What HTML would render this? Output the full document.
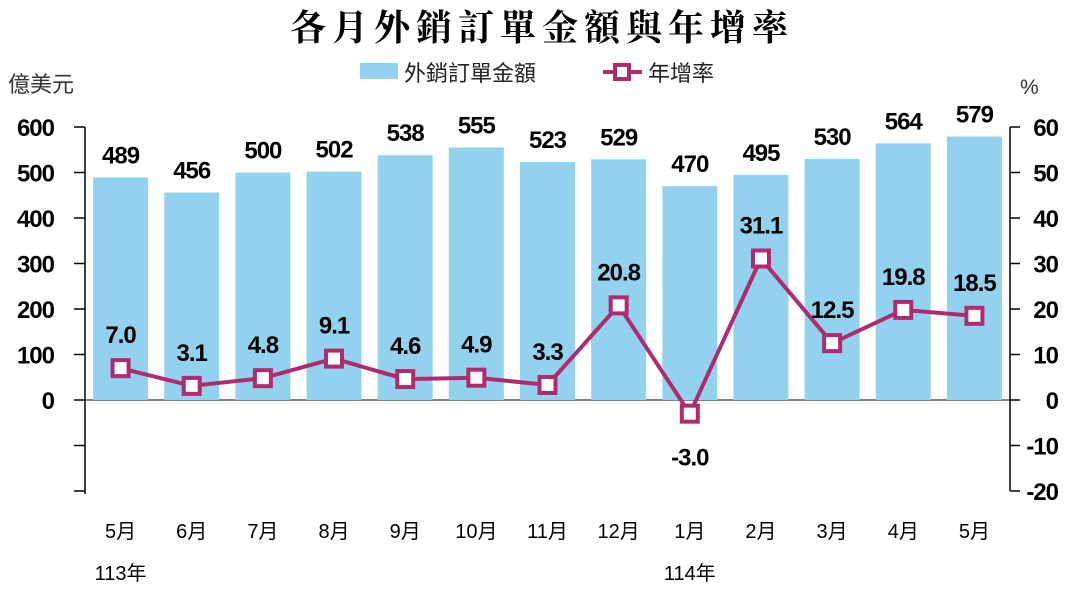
<!DOCTYPE html>
<html><head><meta charset="utf-8"><style>
body{margin:0;background:#fff;}
svg text{font-family:"Liberation Sans Narrow","Liberation Sans",sans-serif;}
.num{letter-spacing:-1px;}
.cjk{font-family:"Liberation Sans","Noto Sans CJK TC",sans-serif;}
</style></head><body>
<svg id="chart" width="1080" height="591" xmlns="http://www.w3.org/2000/svg">
<text x="542" y="40" text-anchor="middle" font-size="36" font-weight="bold" style="font-family:'Noto Serif CJK SC','Noto Sans CJK TC',serif;letter-spacing:6px">各月外銷訂單金額與年增率</text>
<text class="cjk" x="8" y="92" font-size="22" fill="#333">億美元</text>
<text class="cjk" x="1020" y="94" font-size="21" fill="#333">%</text>
<g>
<rect x="360" y="63" width="38" height="16" fill="#92d2ee"/>
<text class="cjk" x="404" y="81" font-size="22" fill="#222">外銷訂單金額</text>
<line x1="603" y1="72" x2="642" y2="72" stroke="#b02a6e" stroke-width="4"/>
<rect x="615" y="65" width="14" height="14" fill="#fff" stroke="#b02a6e" stroke-width="4"/>
<text class="cjk" x="648" y="81" font-size="22" fill="#222">年增率</text>
</g>
<g id="g"></g>
</svg>
<script>
const months=["5月","6月","7月","8月","9月","10月","11月","12月","1月","2月","3月","4月","5月"];
const amounts=[489,456,500,502,538,555,523,529,470,495,530,564,579];
const growth=[7.0,3.1,4.8,9.1,4.6,4.9,3.3,20.8,-3.0,31.1,12.5,19.8,18.5];
const leftTicks=[0,100,200,300,400,500,600];
const rightTicks=[-20,-10,0,10,20,30,40,50,60];
const years=[{i:0,t:"113年"},{i:8,t:"114年"}];
const NS="http://www.w3.org/2000/svg";
const g=document.getElementById("g");
const x0=85,x1=1010,band=(x1-x0)/months.length;
const yL=v=>400-v*0.455;
const yR=v=>400-v*4.55;
const cx=i=>x0+band*(i+0.5);
function mk(t,a,txt){const e=document.createElementNS(NS,t);for(const k in a)e.setAttribute(k,a[k]);if(txt!==undefined)e.textContent=txt;g.appendChild(e);return e;}
let e;
e=mk("line",{x1:x0,y1:yL(600),x2:x0,y2:494,stroke:"#000","stroke-width":1.5});


e=mk("line",{x1:x1,y1:yR(60),x2:x1,y2:yR(-20),stroke:"#000","stroke-width":1.5});


e=mk("line",{x1:x0,y1:400,x2:x1,y2:400,stroke:"#000","stroke-width":1});


[...leftTicks,-100,-200].forEach(v=>{
 e=mk("line",{x1:x0-11,y1:yL(v),x2:x0,y2:yL(v),stroke:"#000","stroke-width":1.5});
 
 
});
leftTicks.forEach(v=>{
 e=mk("text",{x:54,y:yL(v)+9,"font-size":24,"font-weight":"bold","text-anchor":"end",class:"num"},v);
 
 
});
rightTicks.forEach(v=>{
 e=mk("line",{x1:x1,y1:yR(v),x2:x1+10,y2:yR(v),stroke:"#000","stroke-width":1.5});
 
 
 e=mk("text",{x:1058,y:yR(v)+9,"font-size":24,"font-weight":"bold","text-anchor":"end",class:"num"},v);
 
 
});
amounts.forEach((v,i)=>{
 e=mk("rect",{x:cx(i)-27.5,y:yL(v),width:55,height:400-yL(v),fill:"#92d2ee"});
 
 
 e=mk("text",{x:cx(i),y:yL(v)-14,"font-size":24,"font-weight":"bold","text-anchor":"middle",class:"num"},v);
 
 
 e=mk("text",{x:cx(i),y:538,"font-size":20,"text-anchor":"middle",class:"cjk"},months[i]);
 
 
});
years.forEach(y=>{
 e=mk("text",{x:cx(y.i),y:580,"font-size":20,"text-anchor":"middle",class:"cjk"},y.t);
 
 
});
e=mk("polyline",{points:growth.map((v,i)=>cx(i)+","+yR(v)).join(" "),fill:"none",stroke:"#b02a6e","stroke-width":4});


growth.forEach((v,i)=>{
 e=mk("rect",{x:cx(i)-8,y:yR(v)-8,width:16,height:16,fill:"#fff",stroke:"#b02a6e","stroke-width":4});
 
 
 const ly=v<0?yR(v)+52:yR(v)-25;
 e=mk("text",{x:cx(i),y:ly,"font-size":24,"font-weight":"bold","text-anchor":"middle",class:"num"},v.toFixed(1));
 
 
});
</script>
</body></html>
